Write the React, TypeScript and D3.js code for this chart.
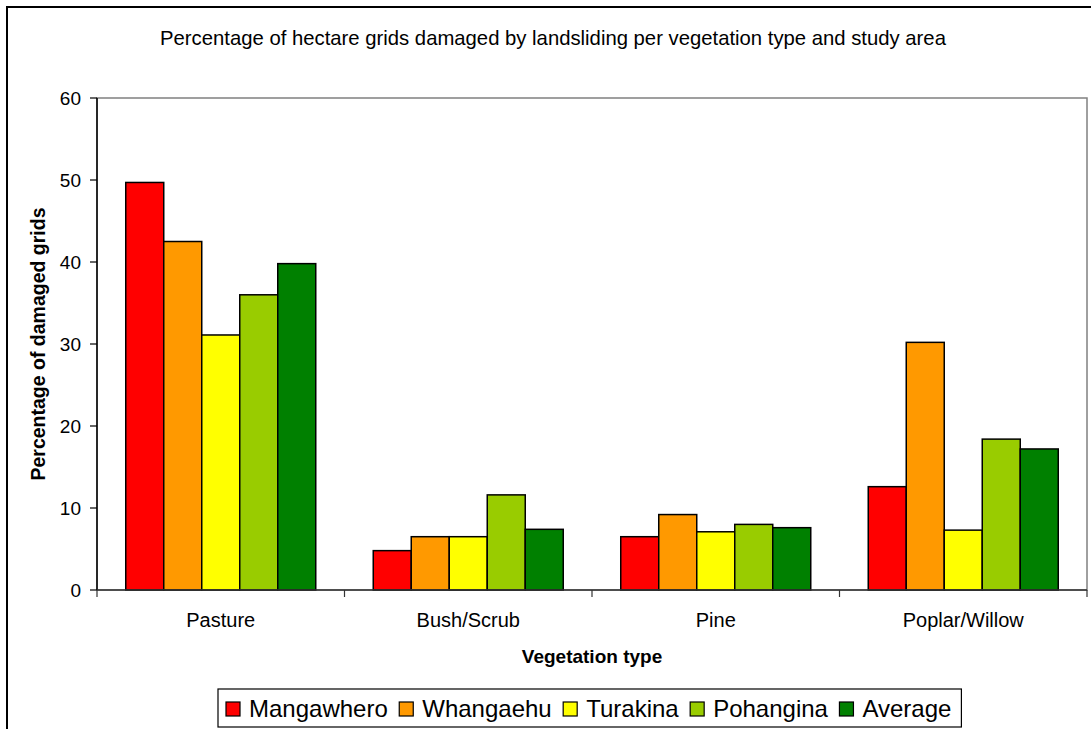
import React, { useMemo } from "react";
import * as d3 from "d3";

const categories = ["Pasture", "Bush/Scrub", "Pine", "Poplar/Willow"];
const seriesNames = ["Mangawhero", "Whangaehu", "Turakina", "Pohangina", "Average"];
const seriesColors = ["#FF0000", "#FF9900", "#FFFF00", "#99CC00", "#008000"];
const mangawhero = [49.7, 4.8, 6.5, 12.6];
const whangaehu = [42.5, 6.5, 9.2, 30.2];
const turakina = [31.1, 6.5, 7.1, 7.3];
const pohangina = [36.0, 11.6, 8.0, 18.4];
const average = [39.8, 7.4, 7.6, 17.2];
const yTicks = [0, 10, 20, 30, 40, 50, 60];

const title = "Percentage of hectare grids damaged by landsliding per vegetation type and study area";
const xTitle = "Vegetation type";
const yTitle = "Percentage of damaged grids";

const FONT = "Arial, 'Liberation Sans', Helvetica, sans-serif";

function measure(text: string, font: string): number {
  const c = document.createElement("canvas");
  const ctx = c.getContext("2d")!;
  ctx.font = font;
  return ctx.measureText(text).width;
}

export default function App() {
  const W = 1091, H = 729;
  const plot = { left: 97, right: 1087, top: 98, bottom: 590 };
  const values = [mangawhero, whangaehu, turakina, pohangina, average];

  const pad = 0.2323;
  const x0 = d3.scaleBand<string>().domain(categories).range([plot.left, plot.right]).paddingInner(pad).paddingOuter(pad / 2);
  const x1 = d3.scaleBand<string>().domain(seriesNames).range([0, x0.bandwidth()]).padding(0);
  const y = d3.scaleLinear().domain([0, 60]).range([plot.bottom, plot.top]);
  const step = x0.step();
  const boundaries = d3.range(categories.length + 1).map((i) => plot.left + i * step);

  const legendFontSize = 24;
  const legend = useMemo(() => {
    const font = `${legendFontSize}px Arial, 'Liberation Sans', sans-serif`;
    let cx = 226;
    const items = seriesNames.map((n, i) => {
      const w = measure(n, font);
      const item = { name: n, color: seriesColors[i], sx: cx, tx: cx + 23, w };
      cx = cx + 23 + w + 11.5;
      return item;
    });
    const last = items[items.length - 1];
    return { items, right: last.tx + last.w + 10 };
  }, []);

  return (
    <svg width={W} height={H} style={{ position: "absolute", left: 0, top: 0, background: "#fff" }} fontFamily={FONT}>
      <rect x={0} y={0} width={W} height={H} fill="#fff" />
      <rect x={7} y={7} width={W + 20} height={H + 20} fill="none" stroke="#000" strokeWidth={2} />
      <text x={553} y={45} textAnchor="middle" fontSize={20.3} fill="#000">{title}</text>

      {/* plot area border */}
      <rect x={plot.left} y={plot.top} width={plot.right - plot.left} height={plot.bottom - plot.top} fill="none" stroke="#808080" strokeWidth={1.5} />

      {/* bars */}
      {categories.map((c, ci) => (
        <g key={c}>
          {seriesNames.map((s, si) => (
            <rect
              key={s}
              x={(x0(c) as number) + (x1(s) as number)}
              y={y(values[si][ci])}
              width={x1.bandwidth()}
              height={y(0) - y(values[si][ci])}
              fill={seriesColors[si]}
              stroke="#000"
              strokeWidth={1.5}
            />
          ))}
        </g>
      ))}

      {/* y axis */}
      <line x1={plot.left} x2={plot.left} y1={plot.top} y2={plot.bottom} stroke="#000" strokeWidth={1.5} />
      {yTicks.map((t) => (
        <g key={t}>
          <line x1={plot.left - 7} x2={plot.left} y1={y(t)} y2={y(t)} stroke="#000" strokeWidth={1.2} />
          <text x={plot.left - 16} y={y(t) + 7} textAnchor="end" fontSize={19} fill="#000">{t}</text>
        </g>
      ))}

      {/* x axis */}
      <line x1={plot.left} x2={plot.right} y1={plot.bottom} y2={plot.bottom} stroke="#333" strokeWidth={1.5} />
      {boundaries.map((b, i) => (
        <line key={i} x1={b} x2={b} y1={plot.bottom} y2={plot.bottom + 7} stroke="#333" strokeWidth={1.2} />
      ))}
      {categories.map((c) => (
        <text key={c} x={(x0(c) as number) + x0.bandwidth() / 2} y={627} textAnchor="middle" fontSize={20} fill="#000">{c}</text>
      ))}

      <text x={592} y={663} textAnchor="middle" fontSize={19} fontWeight="bold" fill="#000">{xTitle}</text>
      <text transform={`translate(45, ${(plot.top + plot.bottom) / 2}) rotate(-90)`} textAnchor="middle" fontSize={19.5} fontWeight="bold" fill="#000">{yTitle}</text>

      {/* legend */}
      <rect x={218} y={689} width={legend.right - 218} height={38} fill="#fff" stroke="#000" strokeWidth={1.2} />
      {legend.items.map((it) => (
        <g key={it.name}>
          <rect x={it.sx} y={702} width={14} height={14} fill={it.color} stroke="#000" strokeWidth={1.2} />
          <text x={it.tx} y={717} fontSize={legendFontSize} fill="#000">{it.name}</text>
        </g>
      ))}
    </svg>
  );
}
